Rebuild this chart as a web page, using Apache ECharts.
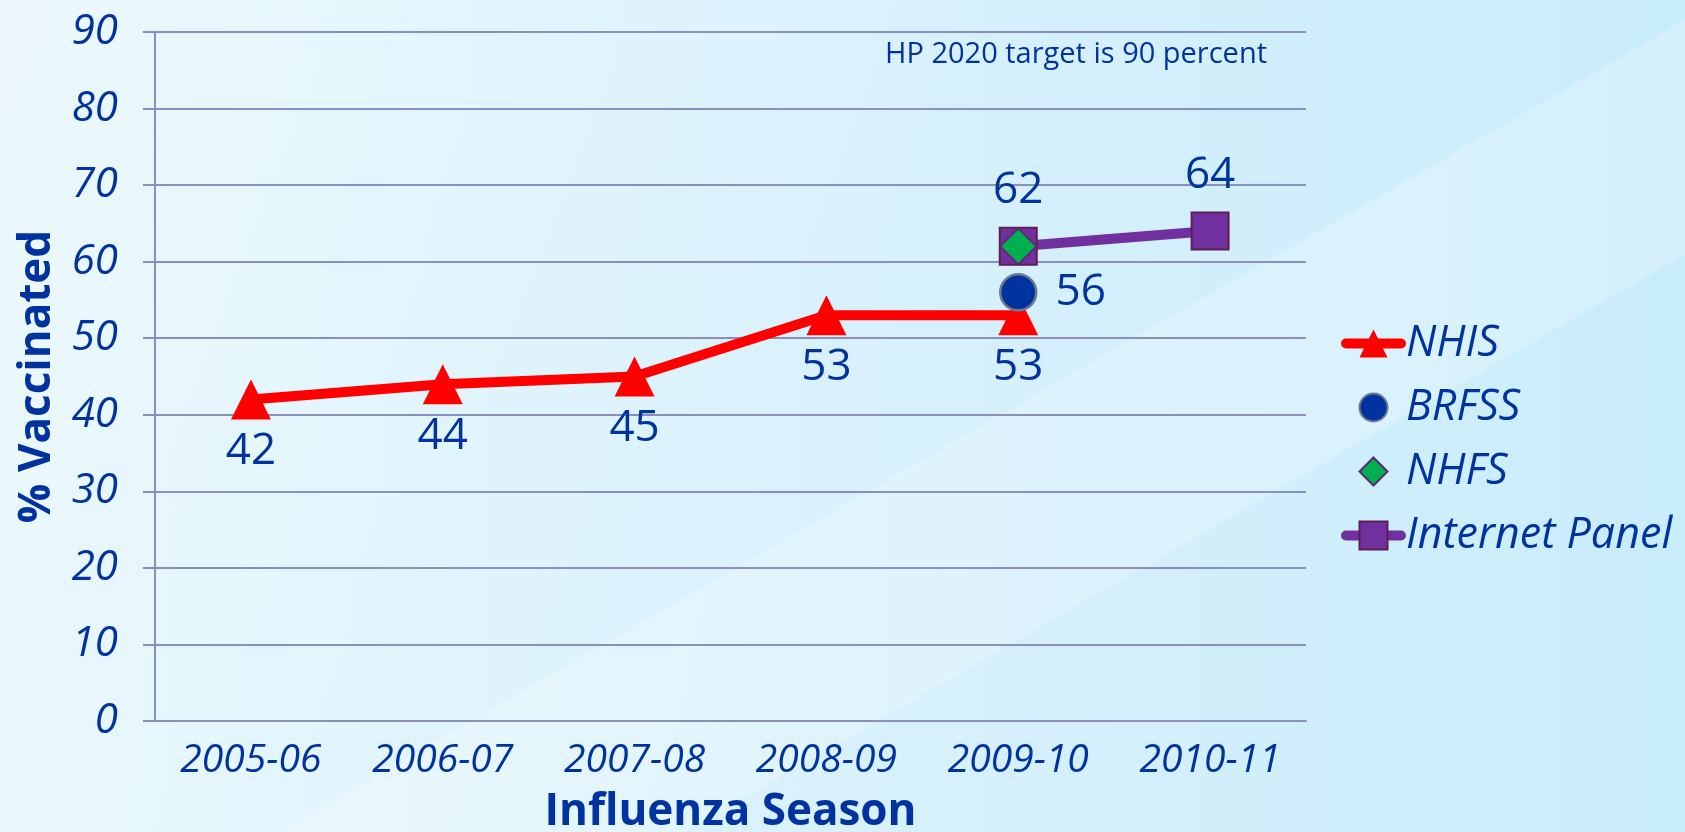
<!DOCTYPE html>
<html>
<head>
<meta charset="utf-8">
<script src="https://cdn.jsdelivr.net/npm/echarts@6/dist/echarts.min.js"></script>
<style>
  html, body { margin: 0; padding: 0; }
  body {
    width: 1685px; height: 832px; overflow: hidden;
    background:
      linear-gradient(150deg, rgba(255,255,255,0) 55%, rgba(255,255,255,0.22) 55%, rgba(255,255,255,0.22) 68%, rgba(255,255,255,0) 68%),
      linear-gradient(112deg, rgba(255,255,255,0.35) 0%, rgba(255,255,255,0.1) 35%, rgba(255,255,255,0) 50%),
      linear-gradient(to right, #e2f5fd 0%, #d8f1fc 50%, #c9ecfa 100%);
  }
  #chart { width: 1685px; height: 832px; }
</style>
</head>
<body>
<div id="chart"></div>
<script>
  // 数据
  const seasons = ['2005-06', '2006-07', '2007-08', '2008-09', '2009-10', '2010-11']
  const nhis = [42, 44, 45, 53, 53, null]
  const brfss = [null, null, null, null, 56, null]
  const nhfs = [null, null, null, null, 62, null]
  const internetPanel = [null, null, null, null, 62, 64]
  const yTicks = [0, 90, 10] // min, max, interval

  const blue = '#0033a0'
  const gridColor = '#8b8fc0'
  const font = '"Open Sans", "DejaVu Sans", sans-serif'

  const chart = echarts.init(document.getElementById('chart'))

  const labelStyle = (pos, dist) => ({
    show: true,
    position: pos,
    distance: dist,
    color: blue,
    fontSize: 44,
    fontFamily: font
  })

  const option = {
    backgroundColor: 'transparent',
    title: {
      text: 'HP 2020 target is 90 percent',
      right: 418,
      top: 40,
      padding: 0,
      textStyle: { color: blue, fontSize: 29, fontWeight: 'normal', fontFamily: font }
    },
    grid: { left: 155, right: 379, top: 32, bottom: 111, outerBoundsMode: 'none', containLabel: false },
    legend: {
      orient: 'vertical',
      left: 1336,
      top: 317,
      itemWidth: 55,
      itemHeight: 35,
      itemGap: 21,
      data: [
        { name: 'NHIS', lineStyle: { width: 10, cap: 'round' } },
        { name: 'BRFSS' },
        { name: 'NHFS' },
        { name: 'Internet Panel', lineStyle: { width: 10, cap: 'round' } }
      ],
      textStyle: { color: blue, fontSize: 43, fontStyle: 'italic', fontFamily: font, lineHeight: 43 }
    },
    xAxis: {
      type: 'category',
      data: seasons,
      boundaryGap: true,
      name: 'Influenza Season',
      nameLocation: 'middle',
      nameGap: 69,
      nameTextStyle: { color: blue, fontSize: 44, fontWeight: 'bold', fontFamily: font },
      axisLine: { lineStyle: { color: gridColor, width: 2 } },
      axisTick: { length: 10, lineStyle: { color: gridColor, width: 2 } },
      axisLabel: { color: blue, fontSize: 39, fontStyle: 'italic', fontFamily: font, margin: 20 }
    },
    yAxis: {
      type: 'value',
      min: yTicks[0],
      max: yTicks[1],
      interval: yTicks[2],
      name: '% Vaccinated',
      nameLocation: 'middle',
      nameRotate: 90,
      nameGap: 96,
      nameTextStyle: { color: blue, fontSize: 44, fontWeight: 'bold', fontFamily: font },
      axisLine: { show: true, lineStyle: { color: gridColor, width: 2 } },
      axisTick: { show: true, length: 12, lineStyle: { color: gridColor, width: 2 } },
      splitLine: { lineStyle: { color: gridColor, width: 2 } },
      axisLabel: { color: blue, fontSize: 42, fontStyle: 'italic', fontFamily: font, margin: 37 }
    },
    series: [
      {
        name: 'NHIS',
        type: 'line',
        data: nhis,
        symbol: 'triangle',
        symbolSize: 40,
        color: '#ff0000',
        lineStyle: { width: 10, color: '#ff0000' },
        itemStyle: { color: '#ff0000' },
        label: labelStyle('bottom', 10),
        z: 2
      },
      {
        name: 'BRFSS',
        type: 'line',
        data: brfss,
        symbol: 'circle',
        symbolSize: 36,
        color: '#0033a0',
        lineStyle: { width: 0, opacity: 0 },
        itemStyle: { color: '#0033a0', borderColor: '#6b7b8c', borderWidth: 2.5 },
        label: labelStyle('right', 18),
        z: 3
      },
      {
        name: 'NHFS',
        type: 'line',
        data: nhfs,
        symbol: 'diamond',
        symbolSize: 36,
        color: '#00b050',
        lineStyle: { width: 0, opacity: 0 },
        itemStyle: { color: '#00b050', borderColor: '#5b2c6f', borderWidth: 2 },
        z: 5
      },
      {
        name: 'Internet Panel',
        type: 'line',
        data: internetPanel,
        symbol: 'rect',
        symbolSize: 37,
        color: '#7030a0',
        lineStyle: { width: 10, color: '#7030a0' },
        itemStyle: { color: '#7030a0', borderColor: '#5e1f4f', borderWidth: 2 },
        label: labelStyle('top', 14),
        z: 4
      }
    ]
  }

  chart.setOption(option)
</script>
</body>
</html>
